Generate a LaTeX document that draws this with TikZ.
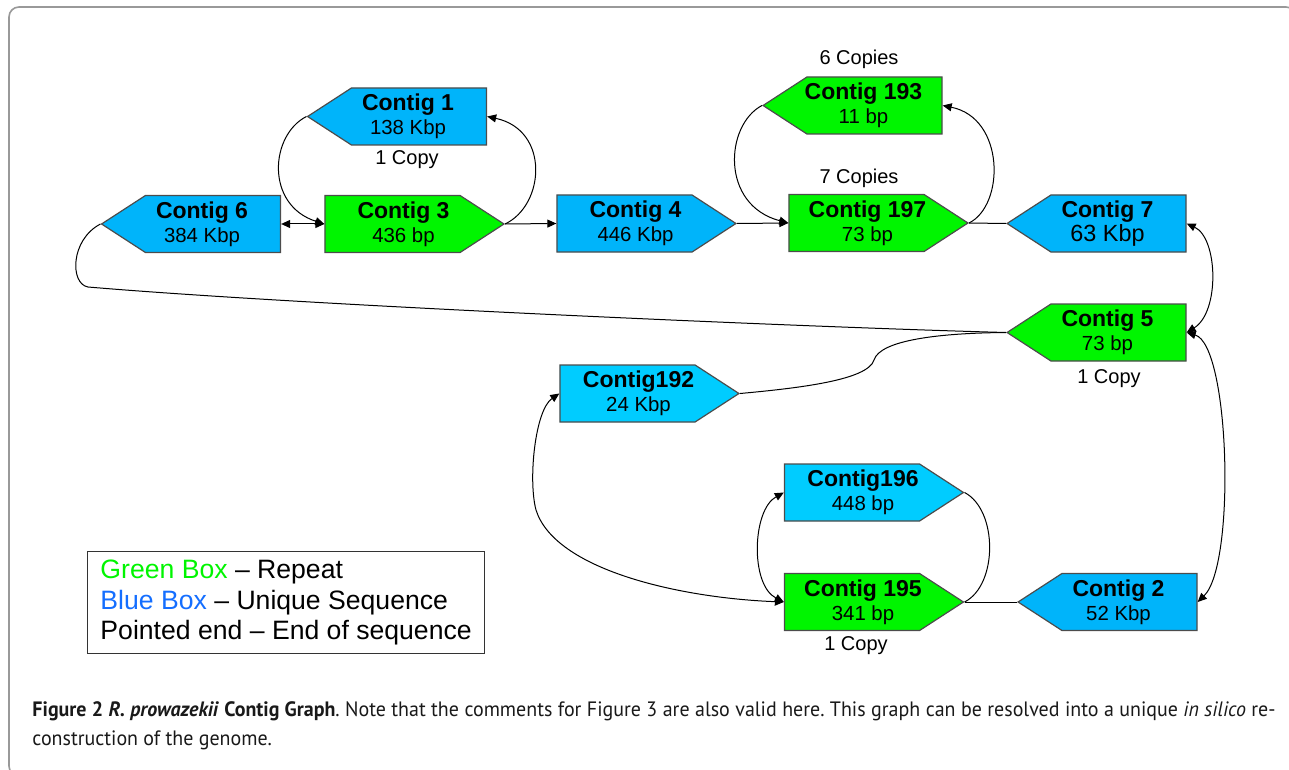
\documentclass[tikz,border=0pt]{standalone}
\usepackage{fontspec}
\setmainfont{Liberation Sans}
\newfontfamily\capfont[FakeStretch=0.96]{PT Sans}
\usepackage{tikz}
\usetikzlibrary{shapes.symbols,arrows.meta}
\newcommand{\ctname}[1]{{\fontsize{11.5pt}{12pt}\selectfont\bfseries #1}}

\begin{document}
\begin{tikzpicture}[x=0.5pt,y=-0.5pt,line width=0.5pt,
  every node/.style={font=\fontsize{10pt}{12pt}\selectfont},
  arr/.style={-{Triangle[length=4.5pt,width=4pt]}},
  dbl/.style={{Triangle[length=4.5pt,width=4pt]}-{Triangle[length=4.5pt,width=4pt]}},
  rbox/.style={signal, signal to=east, signal pointer angle=66, draw=black!70,
    line width=0.6pt, minimum width=89.5pt, minimum height=28.5pt, inner sep=0pt,
    label={[align=center,xshift=5.5pt,font=\fontsize{10.2pt}{12pt}\selectfont]center:#1}},
  lbox/.style={signal, signal to=west, signal pointer angle=66, draw=black!70,
    line width=0.6pt, minimum width=89.5pt, minimum height=28.5pt, inner sep=0pt,
    label={[align=center,xshift=-5.5pt,font=\fontsize{10.2pt}{12pt}\selectfont]center:#1}}]

\definecolor{uniq}{RGB}{0,180,250}
\definecolor{uniqlight}{RGB}{0,204,255}
\definecolor{rep}{RGB}{0,245,0}
\definecolor{legblue}{RGB}{20,110,255}

\useasboundingbox (0,0) rectangle (1289,770);
\draw[black!40,line width=0.8pt,rounded corners=5pt] (9,7) rectangle (1296,776);

% ===================== TOP ROW =====================
\node[lbox={\ctname{Contig 1}\\138 Kbp}, fill=uniq] (c1) at (419,116.5) {};
\node[lbox={\ctname{Contig 6}\\384 Kbp}, fill=uniq] (c6) at (213,224) {};
\node[rbox={\ctname{Contig 3}\\436 bp}, fill=rep] (c3) at (392.5,224) {};
\node[rbox={\ctname{Contig 4}\\446 Kbp}, fill=uniq] (c4) at (624.5,223.5) {};
\node[lbox={\ctname{Contig 193}\\11 bp}, fill=rep] (c193) at (874.5,105.5) {};
\node[rbox={\ctname{Contig 197}\\73 bp}, fill=rep] (c197) at (856.5,223) {};
\node[lbox={\ctname{Contig 7}\\{\fontsize{11.7pt}{12pt}\selectfont 63 Kbp}}, fill=uniq] (c7) at (1118.5,223.5) {};

\node (n1) at (407,160) {1 Copy};
\node (n193) at (859,59) {6 Copies};
\node (n197) at (859,178) {7 Copies};

% ===================== LOWER PART =====================
\node[lbox={\ctname{Contig 5}\\73 bp}, fill=rep] (c5) at (1118.5,332.5) {};
\node[rbox={\ctname{Contig192}\\24 Kbp}, fill=uniqlight] (c192) at (627.5,393.5) {};
\node[rbox={\ctname{Contig196}\\448 bp}, fill=uniqlight] (c196) at (852,492.5) {};
\node[rbox={\ctname{Contig 195}\\341 bp}, fill=rep] (c195) at (852,602) {};
\node[lbox={\ctname{Contig 2}\\52 Kbp}, fill=uniq] (c2) at (1129.5,602) {};

\node (n5) at (1109,379) {1 Copy};
\node (n195) at (856,646) {1 Copy};

% links
\draw[dbl] (c6.east) -- (c3.west);
\draw[arr] (c1.west) .. controls (270,135) and (265,205) .. (c3.west);
\draw[arr] (c3.east) .. controls (545,205) and (550,130) .. (c1.east);
\draw[arr] (c3.east) -- (c4.west);
\draw[arr] (c4.east) -- (c197.west);
\draw[arr] (c193.west) .. controls (725,125) and (720,205) .. (c197.west);
\draw[arr] (c197.east) .. controls (1005,205) and (1005,118) .. (c193.east);
\draw (c197.east) -- (c7.west);
\draw[dbl] (c7.east) .. controls (1218,238) and (1220,312) .. (c5.east);
\draw (c5.west) .. controls (800,327) and (300,305) .. (88,287)
  .. controls (70,284) and (70,240) .. (c6.west);
\draw (c5.west) .. controls (940,333) and (880,340) .. (874,360)
  .. controls (868,380) and (800,388) .. (c192.east);
\draw[dbl] (c5.east) .. controls (1230,345) and (1236,565) .. (c2.east);
\draw[dbl] (c192.west) .. controls (535,410) and (528,480) .. (536,510)
  .. controls (555,570) and (680,598) .. (c195.west);
\draw[dbl] (c196.west) .. controls (752,510) and (750,585) .. (c195.west);
\draw (c196.east) .. controls (998,510) and (998,585) .. (c195.east);
\draw (c195.east) -- (c2.west);

% ===================== LEGEND =====================
\node[draw=black!80, line width=0.6pt, anchor=north west, minimum width=198.5pt,
  minimum height=51pt, align=left, inner xsep=6pt,
  font=\fontsize{13.3pt}{15.25pt}\selectfont] (legend) at (87,551)
  {{\color{rep}Green Box} – Repeat\\
   {\color{legblue}Blue Box} – Unique Sequence\\
   Pointed end – End of sequence};

% caption
\node[anchor=north west, inner sep=0pt, align=left, text=black!90,
  font=\capfont\frenchspacing\fontsize{10.4pt}{14.5pt}\selectfont] (caption) at (32,701)
  {\makebox[621.5pt][s]{\textbf{Figure 2} \textbf{\textit{R. prowazekii}} \textbf{Contig Graph}. Note that the comments for Figure 3 are also valid here. This graph can be resolved into a unique \textit{in silico} re-}\\
   construction of the genome.};

\end{tikzpicture}
\end{document}
